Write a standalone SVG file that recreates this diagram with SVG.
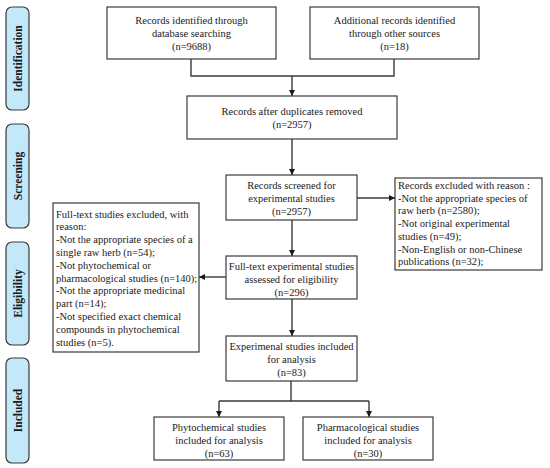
<svg xmlns="http://www.w3.org/2000/svg" width="550" height="468" viewBox="0 0 550 468">
<defs>
<style>
.box{fill:#ffffff;stroke:#3a3a3a;stroke-width:1.2}
.side{fill:#c3e8f8;stroke:#3a3a3a;stroke-width:1.2}
.t{font-family:"Liberation Serif","Times New Roman",serif;font-size:10.5px;fill:#1a1a1a}
.c{text-anchor:middle}
.s{font-family:"Liberation Serif","Times New Roman",serif;font-size:11.5px;font-weight:bold;fill:#1a1a1a;text-anchor:middle}
.ln{fill:none;stroke:#3a3a3a;stroke-width:1.4}
</style>
<marker id="ah" viewBox="0 0 10 10" refX="10" refY="5" markerWidth="6" markerHeight="6" orient="auto" markerUnits="userSpaceOnUse">
<path d="M0,0 L10,5 L0,10 z" fill="#1a1a1a"/>
</marker>
</defs>
<rect width="550" height="468" fill="#ffffff"/>

<g id="side-identification">
<rect class="side" x="6" y="7" width="23" height="103" rx="6"/>
<text class="s" transform="translate(21.5,58.5) rotate(-90)">Identification</text>
</g>
<g id="side-screening">
<rect class="side" x="6" y="124" width="23" height="104" rx="6"/>
<text class="s" transform="translate(21.5,176) rotate(-90)">Screening</text>
</g>
<g id="side-eligibility">
<rect class="side" x="6" y="242" width="23" height="103" rx="6"/>
<text class="s" transform="translate(21.5,293.5) rotate(-90)">Eligibility</text>
</g>
<g id="side-included">
<rect class="side" x="6" y="358" width="23" height="105" rx="6"/>
<text class="s" transform="translate(21.5,410.5) rotate(-90)">Included</text>
</g>

<g id="connectors">
<path class="ln" d="M191,59 V76 H394 V59"/>
<path class="ln" d="M292,76 V96" marker-end="url(#ah)"/>
<path class="ln" d="M292,139 V175" marker-end="url(#ah)"/>
<path class="ln" d="M357,198 H395" marker-end="url(#ah)"/>
<path class="ln" d="M292,220 V256" marker-end="url(#ah)"/>
<path class="ln" d="M226,277 H199" marker-end="url(#ah)"/>
<path class="ln" d="M292,299 V336" marker-end="url(#ah)"/>
<path class="ln" d="M291,381 V401"/>
<path class="ln" d="M219,401 H369"/>
<path class="ln" d="M219,401 V417" marker-end="url(#ah)"/>
<path class="ln" d="M369,401 V417" marker-end="url(#ah)"/>
</g>

<g id="n-database">
<rect class="box" x="107" y="7" width="169" height="52"/>
<text class="t c" x="191.5" y="23.5">Records identified through</text>
<text class="t c" x="191.5" y="36.5">database searching</text>
<text class="t c" x="191.5" y="49.5">(n=9688)</text>
</g>
<g id="n-other">
<rect class="box" x="310" y="7" width="169" height="52"/>
<text class="t c" x="394.5" y="23.5">Additional records identified</text>
<text class="t c" x="394.5" y="36.5">through other sources</text>
<text class="t c" x="394.5" y="49.5">(n=18)</text>
</g>
<g id="n-duplicates">
<rect class="box" x="187" y="96" width="210" height="43"/>
<text class="t c" x="292" y="114.5">Records after duplicates removed</text>
<text class="t c" x="292" y="127.5">(n=2957)</text>
</g>
<g id="n-screened">
<rect class="box" x="226" y="175" width="131" height="45"/>
<text class="t c" x="291.5" y="188.5">Records screened for</text>
<text class="t c" x="291.5" y="201.5">experimental studies</text>
<text class="t c" x="291.5" y="214.5">(n=2957)</text>
</g>
<g id="n-excluded-records">
<rect class="box" x="395" y="178" width="147" height="92"/>
<text class="t" x="398" y="189">Records excluded with reason :</text>
<text class="t" x="398" y="201.7">-Not the appropriate species of</text>
<text class="t" x="398" y="214.4">raw herb (n=2580);</text>
<text class="t" x="398" y="227.1">-Not original experimental</text>
<text class="t" x="398" y="239.8">studies (n=49);</text>
<text class="t" x="398" y="252.5">-Non-English or non-Chinese</text>
<text class="t" x="398" y="265.2">publications (n=32);</text>
</g>
<g id="n-fulltext">
<rect class="box" x="226" y="256" width="131" height="43"/>
<text class="t c" x="291.5" y="270">Full-text experimental studies</text>
<text class="t c" x="291.5" y="283">assessed for eligibility</text>
<text class="t c" x="291.5" y="296">(n=296)</text>
</g>
<g id="n-excluded-fulltext">
<rect class="box" x="53" y="203" width="146" height="149"/>
<text class="t" x="56" y="217.5">Full-text studies excluded, with</text>
<text class="t" x="56" y="230.3">reason:</text>
<text class="t" x="56" y="243.1">-Not the appropriate species of a</text>
<text class="t" x="56" y="255.9">single raw herb (n=54);</text>
<text class="t" x="56" y="268.7">-Not phytochemical or</text>
<text class="t" x="56" y="281.5">pharmacological studies (n=140);</text>
<text class="t" x="56" y="294.3">-Not the appropriate medicinal</text>
<text class="t" x="56" y="307.1">part (n=14);</text>
<text class="t" x="56" y="319.9">-Not specified exact chemical</text>
<text class="t" x="56" y="332.7">compounds in phytochemical</text>
<text class="t" x="56" y="345.5">studies (n=5).</text>
</g>
<g id="n-included">
<rect class="box" x="226" y="336" width="131" height="45"/>
<text class="t c" x="291.5" y="349.5">Experimenal studies included</text>
<text class="t c" x="291.5" y="362.5">for analysis</text>
<text class="t c" x="291.5" y="375.5">(n=83)</text>
</g>
<g id="n-phyto">
<rect class="box" x="154" y="417" width="130" height="43"/>
<text class="t c" x="219" y="430.5">Phytochemical studies</text>
<text class="t c" x="219" y="443.5">included for analysis</text>
<text class="t c" x="219" y="456.5">(n=63)</text>
</g>
<g id="n-pharma">
<rect class="box" x="303" y="417" width="130" height="43"/>
<text class="t c" x="368" y="430.5">Pharmacological studies</text>
<text class="t c" x="368" y="443.5">included for analysis</text>
<text class="t c" x="368" y="456.5">(n=30)</text>
</g>
</svg>
